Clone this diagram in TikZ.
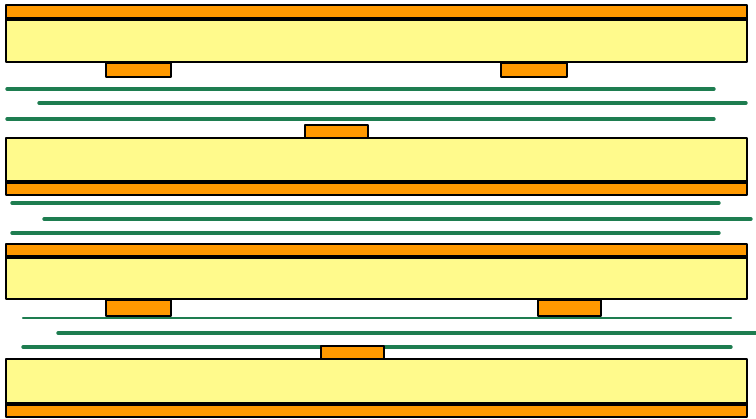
\documentclass[tikz,border=0pt]{standalone}
\usepackage{xcolor}
\definecolor{corefill}{RGB}{255,250,140}
\definecolor{copperfill}{RGB}{255,153,0}
\definecolor{tracegreen}{RGB}{30,125,80}
\tikzset{
  core/.style     = {fill=corefill, draw=black, line width=2.8pt, line join=round},
  copper/.style   = {fill=copperfill, draw=black, line width=2.8pt, line join=round},
  seam/.style     = {draw=black, line width=4.5pt},
  trace/.style    = {draw=tracegreen, line width=3.4pt, line cap=round},
  tracethin/.style = {draw=tracegreen, line width=2.2pt, line cap=round},
}
\begin{document}
\begin{tikzpicture}[x=1pt, y=-1pt]
\useasboundingbox (0,0) rectangle (756,419);
\draw[trace] (7,89) -- (714,89);
\draw[trace] (39,103) -- (746,103);
\draw[trace] (7,119) -- (714,119);
\draw[trace] (12,203) -- (719,203);
\draw[trace] (44,219) -- (751,219);
\draw[trace] (12,233) -- (719,233);
\draw[tracethin] (23,318) -- (731,318);
\draw[trace] (58,333) -- (757,333);
\draw[trace] (23,347) -- (731,347);

\draw[copper] (6,5) rectangle (747,19);
\draw[core] (6,19) rectangle (747,62);
\draw[seam] (6,19) -- (747,19);
\draw[copper] (106,63) rectangle (171,77);
\draw[copper] (501,63) rectangle (567,77);

\draw[copper] (305,125) rectangle (368,138);
\draw[core] (6,138) rectangle (747,182);
\draw[copper] (6,182) rectangle (747,195);
\draw[seam] (6,182) -- (747,182);

\draw[copper] (6,244) rectangle (747,257);
\draw[core] (6,257) rectangle (747,299);
\draw[seam] (6,257) -- (747,257);
\draw[copper] (106,300) rectangle (171,316);
\draw[copper] (538,300) rectangle (601,316);

\draw[copper] (321,346) rectangle (384,359);
\draw[core] (6,359) rectangle (747,404);
\draw[copper] (6,404) rectangle (747,417);
\draw[seam] (6,404) -- (747,404);
\end{tikzpicture}
\end{document}
